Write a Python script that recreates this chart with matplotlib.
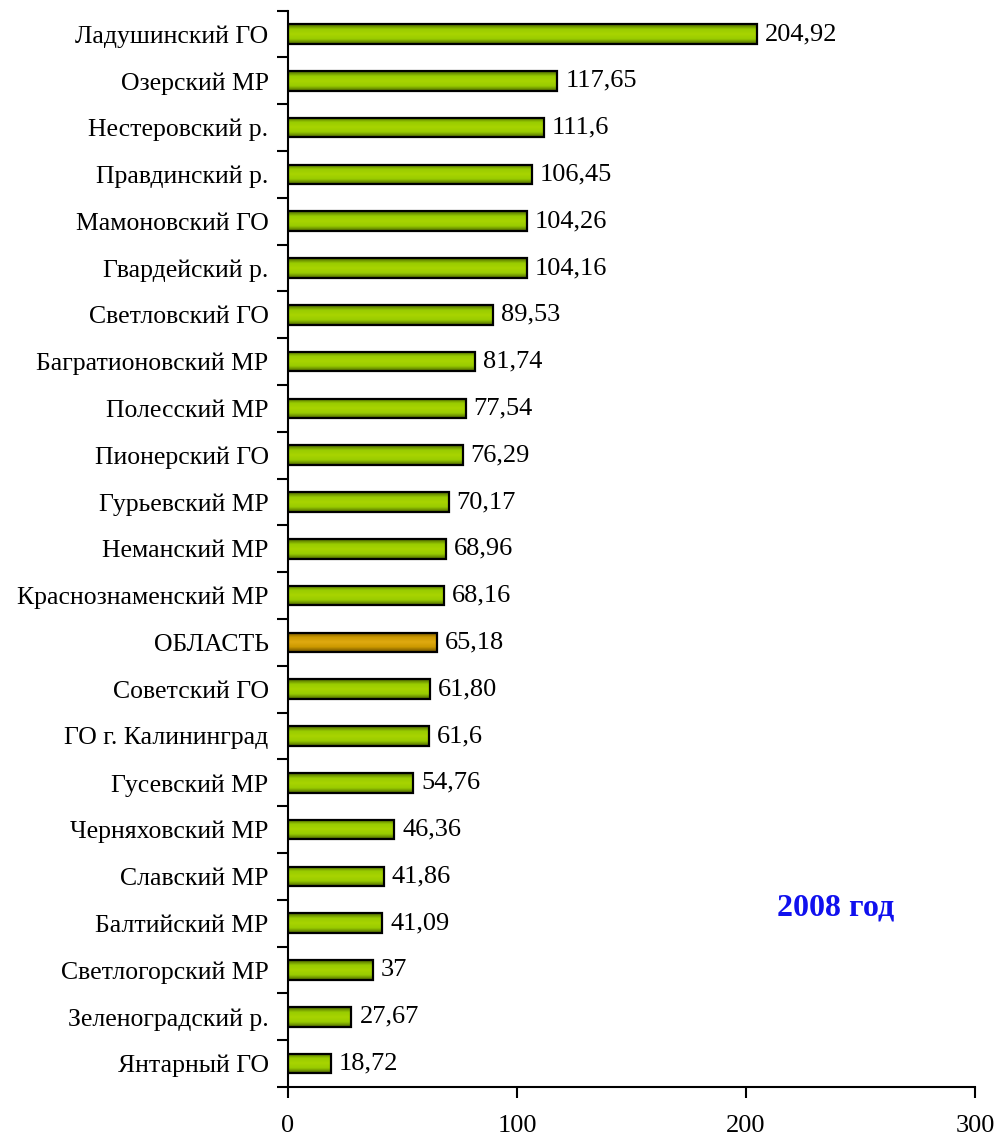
import numpy as np
import matplotlib
matplotlib.use("Agg")
import matplotlib.pyplot as plt
from matplotlib.colors import LinearSegmentedColormap

plt.rcParams['font.family'] = ['Liberation Serif', 'DejaVu Serif']

# Data (top to bottom as in the picture)
names = ["Ладушинский ГО", "Озерский МР", "Нестеровский р.", "Правдинский р.",
         "Мамоновский ГО", "Гвардейский р.", "Светловский ГО", "Багратионовский МР",
         "Полесский МР", "Пионерский ГО", "Гурьевский МР", "Неманский МР",
         "Краснознаменский МР", "ОБЛАСТЬ", "Советский ГО", "ГО г. Калининград",
         "Гусевский МР", "Черняховский МР", "Славский МР", "Балтийский МР",
         "Светлогорский МР", "Зеленоградский р.", "Янтарный ГО"]
values = [204.92, 117.65, 111.6, 106.45, 104.26, 104.16, 89.53, 81.74,
          77.54, 76.29, 70.17, 68.96, 68.16, 65.18, 61.80, 61.6,
          54.76, 46.36, 41.86, 41.09, 37, 27.67, 18.72]
labels = ["204,92", "117,65", "111,6", "106,45", "104,26", "104,16", "89,53", "81,74",
          "77,54", "76,29", "70,17", "68,96", "68,16", "65,18", "61,80", "61,6",
          "54,76", "46,36", "41,86", "41,09", "37", "27,67", "18,72"]
highlight = "ОБЛАСТЬ"

green = LinearSegmentedColormap.from_list("g", ["#4d6600", "#99cc00", "#a8d400", "#99cc00", "#4d6600"])
gold = LinearSegmentedColormap.from_list("o", ["#6b4f00", "#cc9900", "#e0aa10", "#cc9900", "#6b4f00"])

fs = 19

fig = plt.figure(figsize=(10, 11.39), dpi=100)
ax = fig.add_axes([0.288, 0.0457, 0.687, 0.945])

n = len(names)
ypos = np.arange(n)[::-1]
h = 0.42
grad = np.linspace(0, 1, 64).reshape(-1, 1)

# bars with vertical shading, plus value labels
for y, v, name, lab in zip(ypos, values, names, labels):
    cmap = gold if name == highlight else green
    bar = ax.barh(y, v, height=h, color="none", edgecolor="black", linewidth=1.6, zorder=3)[0]
    im = ax.imshow(grad, cmap=cmap, aspect="auto", extent=[0, v, y - h / 2, y + h / 2],
                   zorder=2, interpolation="bilinear")
    im.set_clip_path(bar)
    ax.text(v + 3.5, y, lab, va="center", ha="left", fontsize=fs)

ax.set_xlim(0, 300)
ax.set_ylim(-0.5, n - 0.5)
ax.set_xticks([0, 100, 200, 300])
ax.tick_params(axis="x", labelsize=fs, direction="out", length=8, width=1.5, pad=12)
ax.set_yticks(np.arange(n + 1) - 0.5)
ax.set_yticklabels([])
ax.set_yticks(ypos, minor=True)
ax.set_yticklabels(names, minor=True, fontsize=18.5)
ax.tick_params(axis="y", which="major", direction="out", length=8, width=1.5)
ax.tick_params(axis="y", which="minor", length=0, pad=14)
for s in ["top", "right"]:
    ax.spines[s].set_visible(False)
for s in ["left", "bottom"]:
    ax.spines[s].set_linewidth(1.5)

fig.text(0.836, 1 - 908 / 1139, "2008 год", fontsize=23, fontweight="bold",
         color="#1010ee", ha="center", va="center")

fig.savefig("out.png", dpi=100)
